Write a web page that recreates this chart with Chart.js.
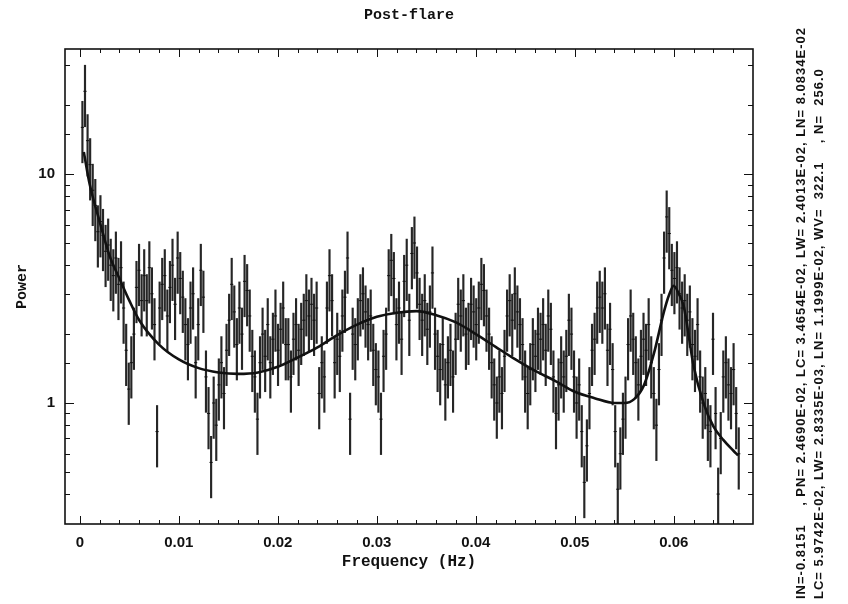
<!DOCTYPE html>
<html>
<head>
<meta charset="utf-8">
<title>Post-flare</title>
<script src="https://cdn.jsdelivr.net/npm/chart.js@4.4.1/dist/chart.umd.min.js"></script>
<style>
  html, body { margin: 0; padding: 0; background: #fff; }
  #wrap { position: relative; width: 848px; height: 604px; overflow: hidden; }
  #psd { position: absolute; left: 0; top: 0; }
  .fitpar {
    position: absolute; white-space: pre; color: #111;
    font: bold 13px "Liberation Sans", Arial, sans-serif; line-height: 14px;
    letter-spacing: 1px;
    transform-origin: 0 0; transform: rotate(-90deg);
  }
</style>
</head>
<body>
<div id="wrap">
  <canvas id="psd" width="848" height="604"></canvas>
  <div class="fitpar" style="left:794px; top:599px">IN=-0.8151    , PN= 2.4690E-02, LC= 3.4654E-02, LW= 2.4013E-02, LN= 8.0834E-02</div>
  <div class="fitpar" style="left:812px; top:599px">LC= 5.9742E-02, LW= 2.8335E-03, LN= 1.1999E-02, WV=  322.1    , N=  256.0</div>
</div>
<script>
(function() {
  'use strict';

  // 256 Fourier bins, spacing
  const FREQ_STEP = 0.00026;
  const freq = Array.from({ length: 256 }, (_, i) => +(FREQ_STEP * (i + 1)).toFixed(6));

  // power per bin (log axis)
  const power = [
    16, 23, 14, 11, 8.5, 7.3, 5.6, 6.2,
    5.4, 4.6, 4.9, 4.0, 3.6, 4.3, 3.3, 3.9,
    2.6, 1.7, 1.15, 1.5, 2.0, 3.2, 3.8, 2.8,
    3.6, 2.8, 3.9, 3.0, 2.2, 0.75, 2.6, 3.3,
    3.6, 2.4, 3.2, 4.0, 2.7, 4.3, 3.5, 2.9,
    2.2, 1.8, 2.6, 3.0, 1.5, 2.2, 3.8, 2.9,
    1.3, 0.9, 0.55, 1.0, 0.8, 1.2, 1.5, 1.1,
    1.7, 2.3, 3.3, 2.5, 1.8, 2.6, 2.0, 3.4,
    3.1, 2.4, 1.6, 1.3, 0.85, 1.5, 2.0, 1.6,
    2.2, 1.5, 1.9, 2.4, 1.7, 2.1, 2.6, 1.8,
    1.8, 1.3, 1.9, 2.2, 1.7, 2.1, 2.3, 2.8,
    2.4, 2.7, 2.3, 2.6, 1.1, 1.5, 1.3, 2.6,
    3.6, 2.8, 1.5, 1.9, 1.6, 2.4, 2.9, 4.3,
    0.85, 2.0, 1.8, 2.2, 2.8, 3.0, 2.5, 2.2,
    2.4, 1.7, 1.4, 1.3, 0.85, 1.6, 2.0, 3.6,
    4.2, 3.5, 2.2, 2.6, 1.9, 3.4, 4.0, 2.3,
    4.5, 5.0, 3.7, 2.7, 2.3, 2.8, 2.1, 2.5,
    3.7, 2.0, 1.6, 1.4, 1.8, 1.2, 1.5, 1.7,
    1.3, 1.9, 2.7, 2.4, 2.8, 2.0, 2.1, 2.7,
    2.5, 2.2, 2.6, 3.3, 3.1, 2.4, 2.0, 1.5,
    1.2, 1.0, 1.3, 1.1, 1.6, 2.4, 2.8, 2.3,
    3.0, 2.5, 2.2, 1.8, 1.3, 1.1, 1.4, 1.8,
    1.6, 2.0, 1.9, 2.2, 1.7, 2.4, 2.1, 1.3,
    0.9, 1.2, 1.5, 1.3, 1.6, 2.3, 2.0, 1.3,
    1.0, 1.2, 0.75, 0.45, 0.65, 1.1, 1.7, 1.9,
    2.6, 2.9, 2.6, 3.0, 1.7, 2.1, 1.4, 0.75,
    0.42, 0.6, 0.85, 1.0, 1.8, 2.4, 1.9, 1.5,
    1.2, 1.6, 1.9, 1.7, 2.2, 1.5, 1.1, 0.8,
    1.4, 2.3, 4.3, 6.5, 5.5, 3.8, 3.5, 3.9,
    3.0, 2.6, 2.8, 2.3, 2.5, 1.8, 1.6, 2.2,
    1.3, 1.0, 1.1, 0.8, 0.75, 1.9, 0.9, 0.4,
    0.7, 1.3, 1.5, 1.2, 1.1, 1.4, 0.9, 0.6
  ];
  // relative 1-sigma error on each bin
  const ERR_FRAC = 0.3;

  // best-fit model curve
  const modelFreq = [
    0.0004, 0.001, 0.002, 0.003, 0.004, 0.005, 0.006, 0.008, 0.010, 0.012,
    0.014, 0.016, 0.018, 0.020, 0.022, 0.024, 0.026, 0.028, 0.030, 0.032,
    0.034, 0.036, 0.038, 0.040, 0.042, 0.044, 0.046, 0.048, 0.050, 0.052,
    0.054, 0.055, 0.056, 0.057, 0.058, 0.059, 0.0595, 0.060, 0.0605, 0.061,
    0.062, 0.063, 0.064, 0.065, 0.066, 0.0665
  ];
  const modelPower = [
    12.5, 9, 6.2, 4.4, 3.5, 2.8, 2.3, 1.8, 1.55, 1.42,
    1.36, 1.34, 1.36, 1.44, 1.58, 1.75, 1.98, 2.2, 2.38, 2.48,
    2.52, 2.42, 2.25, 2.0, 1.76, 1.55, 1.38, 1.25, 1.12, 1.05,
    1.0, 1.0, 1.04, 1.2, 1.65, 2.5, 2.95, 3.25, 3.0, 2.65,
    1.45, 1.0, 0.79, 0.69, 0.62, 0.59
  ];

  const X_MIN = -0.0015, X_MAX = 0.068;
  const Y_MIN = 0.296, Y_MAX = 35.2;
  const yTickLabels = [1, 10];

  const INK = '#111';
  const titleFont = { family: '"Liberation Mono", "Courier New", monospace', weight: 'bold', size: 15 };
  const tickFont = { family: '"Liberation Sans", Arial, sans-serif', weight: 'bold', size: 15 };

  const isMajorX = v => Math.abs(v / 0.01 - Math.round(v / 0.01)) < 1e-6;
  const isDecade = v => Math.abs(Math.log10(v) - Math.round(Math.log10(v))) < 1e-6;

  // box + inward ticks on all four sides, like the original plot package
  const frame = {
    id: 'frame',
    afterDraw(chart) {
      const { ctx, chartArea: a, scales: { x, y } } = chart;
      ctx.save();
      ctx.strokeStyle = INK;
      ctx.lineWidth = 1;
      ctx.beginPath();
      x.ticks.forEach(t => {
        const px = Math.round(x.getPixelForValue(t.value)) + 0.5;
        if (px < a.left + 2 || px > a.right - 2) return;
        const len = isMajorX(t.value) ? 8 : 4;
        ctx.moveTo(px, a.bottom); ctx.lineTo(px, a.bottom - len);
        ctx.moveTo(px, a.top); ctx.lineTo(px, a.top + len);
      });
      y.ticks.forEach(t => {
        const py = Math.round(y.getPixelForValue(t.value)) + 0.5;
        if (py < a.top + 2 || py > a.bottom - 2) return;
        const len = isDecade(t.value) ? 9 : 5;
        ctx.moveTo(a.left, py); ctx.lineTo(a.left + len, py);
        ctx.moveTo(a.right, py); ctx.lineTo(a.right - len, py);
      });
      ctx.stroke();
      ctx.lineWidth = 1.6;
      ctx.strokeRect(a.left, a.top, a.right - a.left, a.bottom - a.top);
      ctx.restore();
    }
  };

  const errData = power.map((p, i) => ({ x: freq[i], y: [p * (1 - ERR_FRAC), p * (1 + ERR_FRAC)] }));
  const ptData = power.map((p, i) => ({ x: freq[i], y: p }));
  const modelData = modelFreq.map((f, i) => ({ x: f, y: modelPower[i] }));

  new Chart(document.getElementById('psd'), {
    type: 'scatter',
    data: {
      datasets: [
        {
          type: 'line',
          data: modelData,
          borderColor: INK,
          borderWidth: 2.6,
          pointRadius: 0,
          cubicInterpolationMode: 'monotone',
          fill: false,
          order: 0
        },
        {
          type: 'scatter',
          data: ptData,
          pointStyle: 'line',
          pointRadius: 1.6,
          borderColor: INK,
          borderWidth: 1,
          order: 1
        },
        {
          type: 'bar',
          data: errData,
          backgroundColor: 'rgba(20,20,20,0.92)',
          borderWidth: 0,
          barThickness: 1.5,
          order: 2
        }
      ]
    },
    options: {
      responsive: false,
      animation: false,
      events: [],
      layout: { padding: { left: 0, right: 95, top: 0, bottom: 0 } },
      plugins: {
        legend: { display: false },
        tooltip: { enabled: false },
        title: { display: false }
      },
      scales: {
        x: {
          type: 'linear',
          min: X_MIN,
          max: X_MAX,
          offset: false,
          grid: { display: false, drawTicks: false },
          border: { display: false },
          ticks: {
            stepSize: 0.002,
            includeBounds: false,
            autoSkip: false,
            maxRotation: 0,
            padding: 10,
            color: INK,
            font: tickFont,
            callback: v => (isMajorX(v) && v > -1e-9) ? String(Math.round(v * 100) / 100) : ''
          },
          title: {
            display: true,
            text: 'Frequency (Hz)',
            color: INK,
            font: { ...titleFont, size: 16 },
            padding: { top: 0, bottom: 32 }
          },
          afterFit(s) { s.height = 80; }
        },
        // top axis only carries the plot title, centred over the frame
        top: {
          type: 'linear',
          position: 'top',
          min: X_MIN,
          max: X_MAX,
          offset: false,
          grid: { display: false, drawTicks: false },
          border: { display: false },
          ticks: { display: false },
          title: {
            display: true,
            text: 'Post-flare',
            color: INK,
            font: titleFont,
            padding: { top: 6, bottom: 0 }
          },
          afterFit(s) { s.height = 49; }
        },
        y: {
          type: 'logarithmic',
          min: Y_MIN,
          max: Y_MAX,
          grid: { display: false, drawTicks: false },
          border: { display: false },
          ticks: {
            autoSkip: false,
            padding: 10,
            color: INK,
            font: tickFont,
            callback: v => {
              const hit = yTickLabels.find(t => Math.abs(v - t) < 1e-9);
              return hit ? String(hit) : '';
            }
          },
          title: {
            display: true,
            text: 'Power',
            color: INK,
            font: titleFont,
            padding: { top: 13, bottom: 0 }
          },
          afterFit(s) { s.width = 65; }
        }
      }
    },
    plugins: [frame]
  });
})();
</script>
</body>
</html>
